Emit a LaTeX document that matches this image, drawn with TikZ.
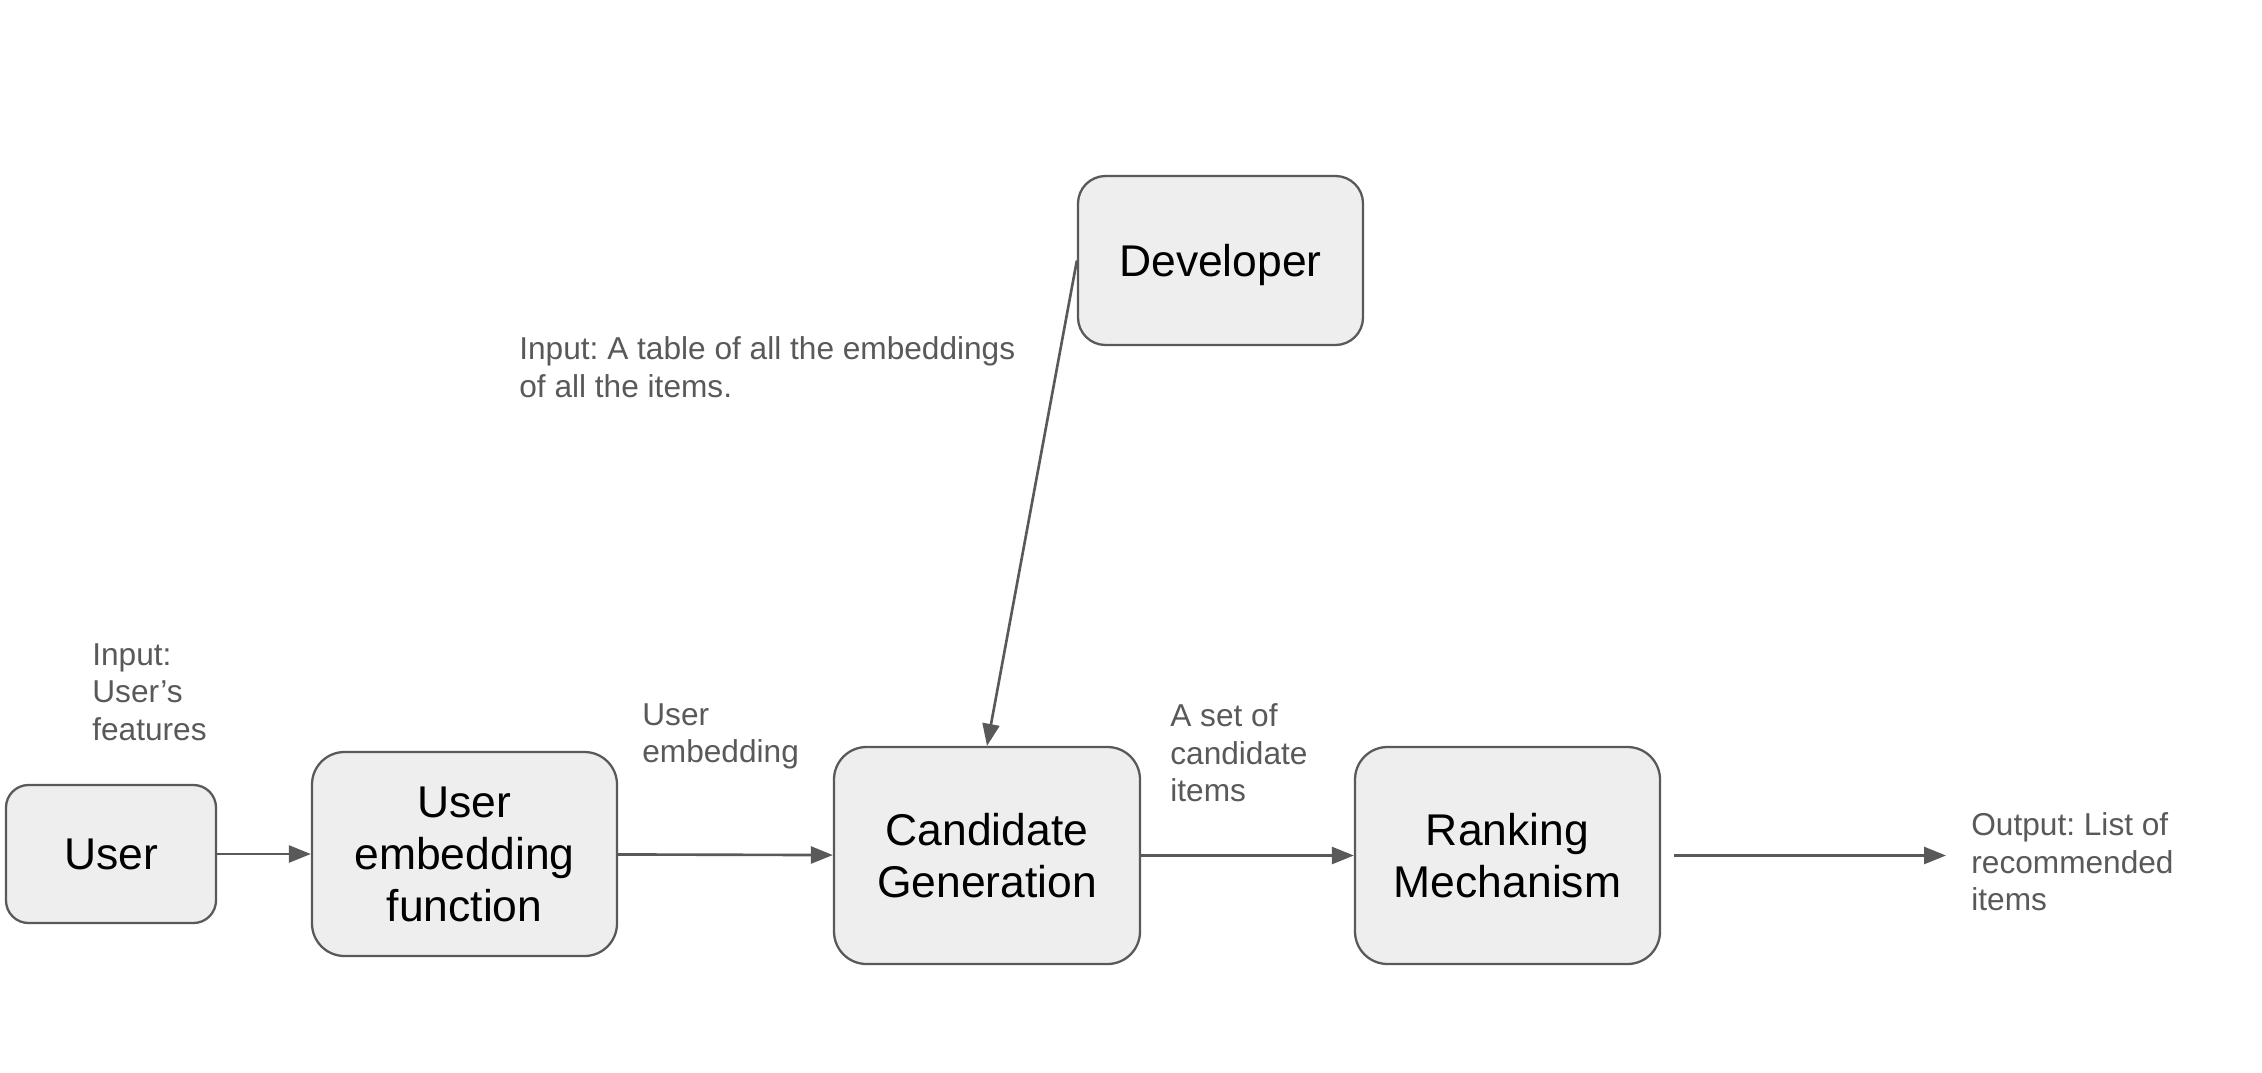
\documentclass[tikz,border=0pt]{standalone}
\usepackage{fontspec}
\setmainfont{Liberation Sans}
\frenchspacing
\usetikzlibrary{arrows.meta}

\definecolor{boxgray}{HTML}{EEEEEE}
\definecolor{linegray}{HTML}{595959}

\tikzset{
  box/.style={rectangle, draw=linegray, fill=boxgray, line width=1.3pt, rounded corners=#1, align=center, inner sep=0pt, text depth=0pt, font=\fontsize{25.3}{29.5}\selectfont},
  box/.default=0.6cm,
  note/.style={anchor=north west, inner sep=0pt, align=left, text=linegray, font=\fontsize{18}{21.5}\selectfont},
  flow/.style={-{Triangle[length=0.44cm, width=0.34cm]}, draw=linegray, line width=1.5pt}
}

\begin{document}
\begin{tikzpicture}
    \useasboundingbox (0, 0) rectangle (45.24, -21.44);

    % Nodes
    \node[box=0.45cm, minimum width=4.2cm,  minimum height=2.76cm] at (2.22, -17.08)  (user)  {User};
    \node[box=0.65cm, minimum width=6.1cm,  minimum height=4.08cm] at (9.29, -17.08)  (embed) {User\\embedding\\function};
    \node[box=0.65cm, minimum width=6.12cm, minimum height=4.34cm] at (19.74, -17.11) (cand)  {Candidate\\Generation};
    \node[box=0.65cm, minimum width=6.1cm,  minimum height=4.34cm] at (30.15, -17.11) (rank)  {Ranking\\Mechanism};
    \node[box=0.55cm, minimum width=5.7cm,  minimum height=3.38cm] at (24.41, -5.21)  (dev)   {Developer};

    \coordinate (out) at (38.92, -17.11);

    % Labels
    \node[note] at (1.84, -12.86)  (inuser)   {Input:\\User’s\\features};
    \node[note] at (12.84, -14.06) (lblemb)   {User\\embedding};
    \node[note] at (23.4, -14.06)  (lblset)   {A set of\\candidate\\items};
    \node[note] at (39.42, -16.24) (lblout)   {Output: List of\\recommended\\items};
    \node[note] at (10.38, -6.72)  (lbltable) {Input: A table of all the embeddings\\of all the items.};

    \draw[flow]  (user) -- (embed);
    \draw[flow]  (embed) -- (cand);
    \draw[flow]  (cand) -- (rank);
    \draw[flow]  (dev.west) -- (cand.north);
    \draw[flow, shorten <=0.26cm]  (rank) -- (out);

  \end{tikzpicture}
\end{document}
